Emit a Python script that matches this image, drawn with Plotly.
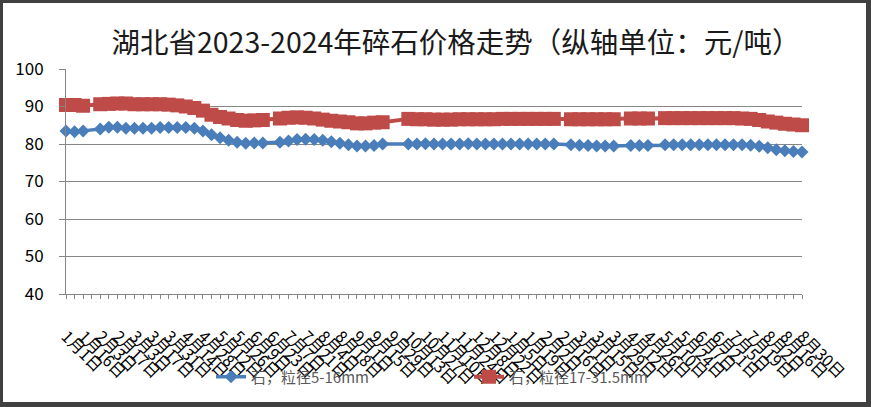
import plotly.graph_objects as go

dates = [
    "1月1日", "1月9日", "1月16日", "1月27日", "2月3日", "2月10日", "2月17日", "2月24日",
    "3月3日", "3月10日", "3月17日", "3月24日", "3月31日", "4月7日", "4月14日", "4月21日",
    "4月28日", "5月5日", "5月12日", "5月19日", "5月26日", "6月2日", "6月9日", "6月16日",
    "6月23日", "6月30日", "7月7日", "7月14日", "7月21日", "7月28日", "8月4日", "8月11日",
    "8月18日", "8月25日", "9月1日", "9月8日", "9月15日", "9月22日", "9月29日", "10月6日",
    "10月13日", "10月20日", "10月27日", "11月3日", "11月10日", "11月17日", "11月24日", "12月1日",
    "12月8日", "12月15日", "12月22日", "12月29日", "1月5日 ", "1月12日 ", "1月19日 ", "1月26日 ",
    "2月2日 ", "2月9日 ", "2月16日 ", "2月23日 ", "3月1日 ", "3月8日 ", "3月15日 ", "3月22日 ",
    "3月29日 ", "4月5日 ", "4月12日 ", "4月19日 ", "4月26日 ", "5月3日 ", "5月10日 ", "5月17日 ",
    "5月24日 ", "5月31日 ", "6月7日 ", "6月14日 ", "6月21日 ", "6月28日 ", "7月5日 ", "7月12日 ",
    "7月19日 ", "7月26日 ", "8月2日 ", "8月9日 ", "8月16日 ", "8月23日 ", "8月30日 ",
]

small_stone = [
    83.5, 83.3, 83.5, None, 84.0, 84.5, 84.5, 84.2, 84.2, 84.2,
    84.2, 84.4, 84.4, 84.4, 84.4, 84.2, 83.5, 82.5, 81.7, 81.0,
    80.5, 80.2, 80.3, 80.3, None, 80.5, 80.8, 81.2, 81.3, 81.2,
    81.0, 80.6, 80.2, 79.8, 79.5, 79.5, 79.6, 80.0, None, None,
    80.0, 80.0, 80.1, 80.0, 80.0, 80.0, 80.0, 80.1, 80.0, 80.0,
    80.0, 80.0, 80.0, 80.0, 80.0, 80.0, 80.0, 80.0, None, 79.8,
    79.7, 79.6, 79.5, 79.5, 79.5, None, 79.6, 79.6, 79.6, None,
    79.8, 79.8, 79.8, 79.8, 79.8, 79.8, 79.8, 79.8, 79.8, 79.8,
    79.7, 79.4, 79.0, 78.5, 78.2, 78.0, 77.9,
]

large_stone = [
    90.4, 90.4, 90.2, None, 90.6, 90.7, 90.8, 90.8, 90.6, 90.6,
    90.6, 90.6, 90.5, 90.3, 90.0, 89.6, 88.9, 87.8, 87.2, 86.8,
    86.4, 86.2, 86.3, 86.4, None, 86.8, 87.0, 87.1, 87.0, 86.8,
    86.5, 86.2, 86.0, 85.8, 85.5, 85.5, 85.7, 85.8, None, None,
    86.7, 86.6, 86.6, 86.5, 86.5, 86.5, 86.6, 86.6, 86.6, 86.6,
    86.6, 86.7, 86.7, 86.7, 86.7, 86.7, 86.7, 86.7, None, 86.6,
    86.6, 86.6, 86.6, 86.6, 86.6, None, 86.8, 86.8, 86.8, None,
    86.9, 86.9, 86.9, 86.9, 86.9, 86.9, 86.9, 86.9, 86.9, 86.8,
    86.7, 86.4, 86.0, 85.7, 85.4, 85.2, 85.0,
]

series_names = ["石，粒径5-16mm", "石，粒径17-31.5mm"]
title_text = "湖北省2023-2024年碎石价格走势（纵轴单位：元/吨）"
y_ticks = [40, 50, 60, 70, 80, 90, 100]

tick_text = [d.strip() if i % 2 == 0 else "" for i, d in enumerate(dates)]

FONT = "Noto Sans CJK SC"

fig = go.Figure()
fig.add_trace(go.Scatter(
    x=dates, y=small_stone, name=series_names[0], mode="lines+markers",
    connectgaps=True, cliponaxis=False,
    line=dict(color="#4A7EBB", width=3.5),
    marker=dict(symbol="diamond", size=10, color="#4A7EBB"),
))
fig.add_trace(go.Scatter(
    x=dates, y=large_stone, name=series_names[1], mode="lines+markers",
    connectgaps=True, cliponaxis=False,
    line=dict(color="#BE4B48", width=4),
    marker=dict(symbol="square", size=14, color="#BE4B48"),
))

# outer dark frame (pixel layout: plot area x 66..802, y 69..294)
W, H = 871, 407
L, R, T, B = 66, 69, 69, 113
pw, ph = W - L - R, H - T - B
def px(x):
    return (x - L) / pw
def py(y):
    return (H - B - y) / ph
frame = "#404040"
shapes = [
    dict(type="rect", xref="paper", yref="paper", x0=px(0), x1=px(3), y0=py(0), y1=py(H), fillcolor=frame, line_width=0),
    dict(type="rect", xref="paper", yref="paper", x0=px(0), x1=px(W), y0=py(0), y1=py(3), fillcolor=frame, line_width=0),
    dict(type="rect", xref="paper", yref="paper", x0=px(866), x1=px(W), y0=py(0), y1=py(H), fillcolor=frame, line_width=0),
    dict(type="rect", xref="paper", yref="paper", x0=px(0), x1=px(W), y0=py(402), y1=py(H), fillcolor=frame, line_width=0),
]

fig.update_layout(
    width=W, height=H,
    margin=dict(l=L, r=R, t=T, b=B, autoexpand=False),
    paper_bgcolor="white", plot_bgcolor="white",
    font=dict(family=FONT, color="#000000"),
    title=dict(text=title_text, x=456 / W, xref="container", xanchor="center",
               y=1 - 43 / H, yref="container", yanchor="middle",
               font=dict(family=FONT, size=28.5, color="#1a1a1a")),
    showlegend=True,
    legend=dict(orientation="h", x=px(211), xanchor="left", y=py(377), yanchor="middle",
                bgcolor="rgba(0,0,0,0)", font=dict(family=FONT, size=15, color="#595959"),
                entrywidth=213, entrywidthmode="pixels"),
    shapes=shapes,
)
fig.update_xaxes(
    type="category", range=[0, len(dates) - 1],
    tickmode="array", tickvals=dates, ticktext=tick_text,
    tickangle=45, tickfont=dict(family=FONT, size=16, color="#000000"),
    ticks="outside", ticklen=4, tickcolor="#868686",
    showline=True, linecolor="#868686", linewidth=1,
    showgrid=False, zeroline=False, ticklabelstandoff=22,
)
fig.update_yaxes(
    range=[40, 100], tickmode="array", tickvals=y_ticks,
    tickfont=dict(family=FONT, size=17, color="#000000"),
    ticks="outside", ticklen=6, tickcolor="#868686",
    showline=True, linecolor="#868686", linewidth=1,
    showgrid=True, gridcolor="#868686", gridwidth=1, zeroline=False,
    ticklabelstandoff=12,
)

fig.write_html("out.html", config={"displayModeBar": False},
               post_script="document.body.style.margin='0';")
